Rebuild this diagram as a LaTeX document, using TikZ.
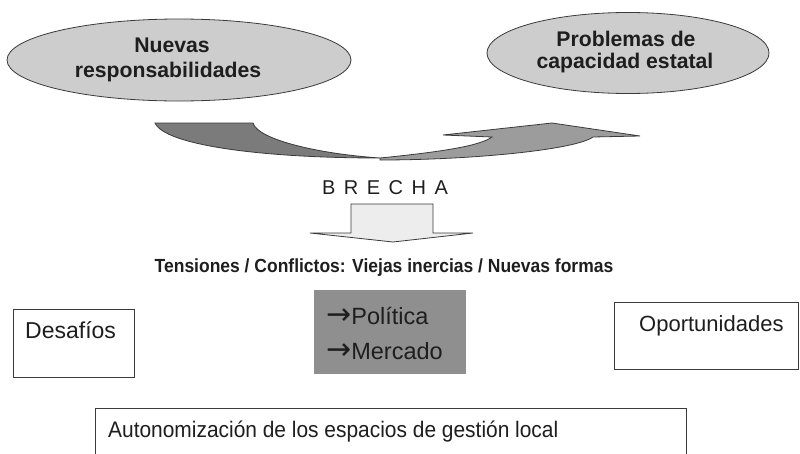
\documentclass[tikz,border=0pt]{standalone}
\usepackage{fontspec}
\setmainfont{Liberation Sans}
\newfontfamily\dejavu{DejaVu Sans}
\usetikzlibrary{shapes.geometric}
\definecolor{ellgray}{HTML}{CDCDCD}
\definecolor{darkarrow}{HTML}{7B7B7B}
\definecolor{lightarrow}{HTML}{9C9C9C}
\definecolor{boxgray}{HTML}{8F8F8F}
\definecolor{downfill}{HTML}{EDEDED}
\definecolor{txt}{HTML}{1E1E1E}
\definecolor{edge}{HTML}{3A3A3A}
\begin{document}
\begin{tikzpicture}[x=1pt,y=-1pt,
  ell/.style={ellipse, draw=edge, line width=0.8pt, fill=ellgray, inner sep=0pt},
  boxw/.style={rectangle, draw=edge, line width=1.2pt, fill=white, inner sep=0pt, anchor=north west},
  eltext/.style={anchor=base, text=txt, inner sep=0pt, font=\fontsize{21.2}{24}\selectfont\bfseries},
  boxtext/.style={anchor=base west, text=txt, inner sep=0pt, font=\fontsize{22}{25}\selectfont},
  midtext/.style={anchor=base west, text=txt, inner sep=0pt, font=\fontsize{23.5}{26}\selectfont},
  shapeline/.style={draw=edge, line width=0.8pt}
]
\useasboundingbox (0,0) rectangle (800,453);

% ellipses
\node[ell, minimum width=344pt, minimum height=82pt] (e1) at (179,60) {};
\node[eltext] (e1a) at (172,52) {Nuevas};
\node[eltext] (e1b) at (168,77) {responsabilidades};
\node[ell, minimum width=282pt, minimum height=81pt] (e2) at (628,53) {};
\node[eltext] (e2a) at (626,46) {Problemas de};
\node[eltext] (e2b) at (625,68) {capacidad estatal};

% curved arrow
\path[shapeline, fill=darkarrow] (155,123) -- (253,123)
  .. controls (258,140) and (320,154) .. (380,158)
  .. controls (260,158) and (165,145) .. (155,123) -- cycle;
\path[shapeline, fill=lightarrow] (380,158)
  .. controls (440,152) and (480,146) .. (492,137)
  -- (443,135) -- (552,123) -- (640,136) -- (593,137)
  .. controls (575,150) and (470,160) .. (380,160) -- cycle;

% BRECHA
\node[anchor=base, text=txt, inner sep=0pt, font=\fontsize{20}{22}\selectfont] (brecha) at (385,194)
  {B\hspace{8.5pt}R\hspace{8.5pt}E\hspace{8.5pt}C\hspace{8.5pt}H\hspace{8.5pt}A};

% down arrow
\path[shapeline, fill=downfill] (351,204) -- (433,204) -- (433,233) -- (473,233)
  -- (393,242) -- (310,233) -- (351,233) -- cycle;

% tensiones
\node[anchor=base, text=txt, inner sep=0pt, font=\fontsize{19}{21}\selectfont\bfseries, xscale=0.92] (tens) at (384,272)
  {Tensiones / Conflictos: Viejas inercias / Nuevas formas};

% boxes
\node[boxw, minimum width=121pt, minimum height=68pt] (des) at (13,309) {};
\node[boxtext, font=\fontsize{23}{26}\selectfont] (dest) at (25,338) {Desafíos};
\node[rectangle, fill=boxgray, inner sep=0pt, anchor=north west, minimum width=152pt, minimum height=84pt] (mid) at (314,290) {};
\node[midtext] (pol) at (326,324)
  {{\dejavu\fontsize{30}{30}\selectfont →}Política};
\node[midtext] (mer) at (326,359)
  {{\dejavu\fontsize{30}{30}\selectfont →}Mercado};
\node[boxw, minimum width=184pt, minimum height=67pt] (opo) at (614,302) {};
\node[boxtext, font=\fontsize{22}{25}\selectfont] (opot) at (639,331) {Oportunidades};
\node[boxw, minimum width=591pt, minimum height=80pt] (aut) at (95,408) {};
\node[boxtext, font=\fontsize{22.5}{25}\selectfont, xscale=0.93] (autt) at (108,437) {Autonomización de los espacios de gestión local};
\end{tikzpicture}
\end{document}
